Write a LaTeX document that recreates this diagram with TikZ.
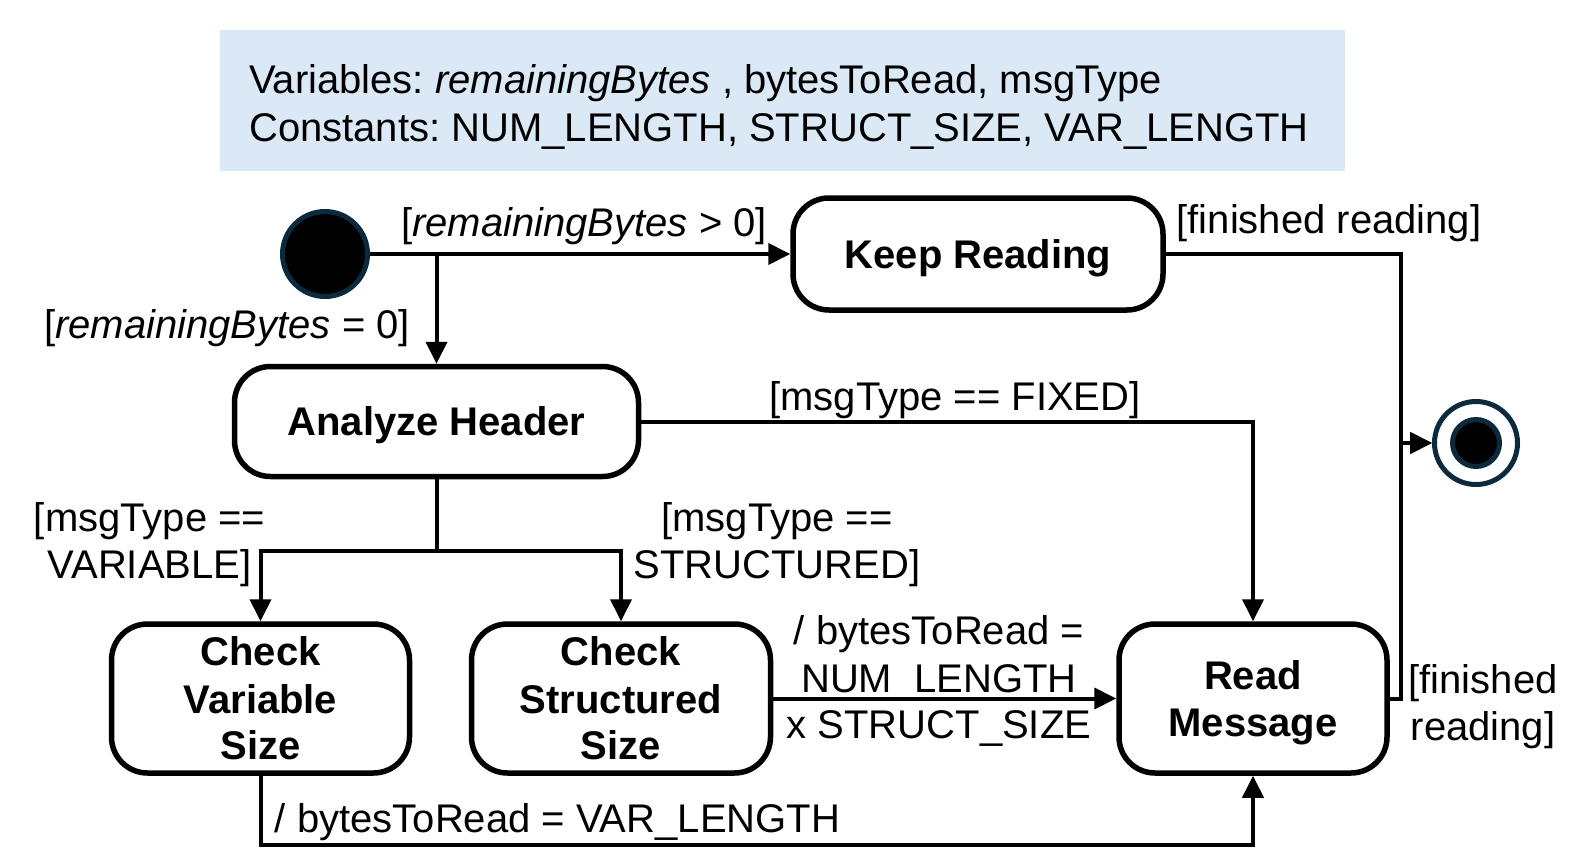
\documentclass[tikz,border=0pt]{standalone}
\usepackage{fontspec}
\setmainfont{Liberation Sans}
\frenchspacing
\usetikzlibrary{arrows.meta}
\definecolor{navy}{RGB}{12,42,62}
\definecolor{legendblue}{RGB}{219,232,246}
\begin{document}
\begin{tikzpicture}[x=1pt,y=-1pt,
  every node/.style={font=\fontsize{40}{47}\selectfont, inner sep=0pt, text depth=0pt},
  statebox/.style={draw, line width=5.5pt, rounded corners=36pt, align=center, font=\fontsize{40}{47}\selectfont\bfseries},
  arr/.style={line width=4pt, -{Triangle[length=22pt,width=21pt]}},
  conn/.style={line width=4pt},
  lbl/.style={align=center}]
\useasboundingbox (0,0) rectangle (1580,867);
% legend
\node[fill=legendblue, minimum width=1125pt, minimum height=141pt] (legend) at (782.5,100.5) {};
\node[anchor=west, align=left, font=\fontsize{40}{48}\selectfont] (legendtext) at (249,103)
  {Variables: \textit{remainingBytes} , bytesToRead, msgType\\Constants: NUM\_LENGTH, STRUCT\_SIZE, VAR\_LENGTH};
% states
\node[circle, fill=black, draw=navy, line width=5pt, minimum size=85pt] (init) at (325,254) {};
\node[statebox, minimum width=370pt, minimum height=112pt] (keep) at (978,254) {Keep Reading};
\node[statebox, minimum width=404pt, minimum height=110pt] (analyze) at (436.5,421.5) {Analyze Header};
\node[statebox, minimum width=298pt, minimum height=149pt] (cv) at (260.5,698.5) {Check\\Variable\\Size};
\node[statebox, minimum width=299pt, minimum height=149pt] (cs) at (621,698.5) {Check\\Structured\\Size};
\node[statebox, minimum width=268pt, minimum height=149pt] (read) at (1253,698.5) {Read\\Message};
\node[circle, fill=white, draw=navy, line width=5pt, minimum size=83pt] (final) at (1476,443) {};
\node[circle, fill=black, draw=navy, line width=5pt, minimum size=47pt] (finalin) at (final.center) {};
% junction coordinates
\coordinate (b1) at (436.5,254);
\coordinate (j) at (1401,443);
\coordinate (s) at (436.5,551);
\coordinate (bt) at (1253,845);
% connectors
\draw[arr] (init) -- (keep);
\draw[arr] (b1) -- (analyze.north);
\draw[arr] (keep.east) -| (j) -- (final.west);
\draw[arr] (read.east) -| (j) -- (final.west);
\draw[arr] (analyze.east) -| (read.north);
\draw[conn] (analyze.south) -- (s);
\draw[arr] (s) -| (cv.north);
\draw[arr] (s) -| (cs.north);
\draw[arr] (cs.east) -- (read.west);
\draw[arr] (cv.south) |- (bt) -- (read.south);
% labels
\node[lbl] (l1) at (584,222) {[\textit{remainingBytes} > 0]};
\node[lbl] (l2) at (227,324) {[\textit{remainingBytes} = 0]};
\node[lbl] (l3) at (1329,219) {[finished reading]};
\node[lbl] (l4) at (955,396) {[msgType == FIXED]};
\node[lbl] (l5) at (149.5,541) {[msgType ==\\VARIABLE]};
\node[lbl] (l6) at (777,541) {[msgType ==\\STRUCTURED]};
\node[lbl] (l7) at (939,677.5) {/ bytesToRead =\\NUM\_LENGTH\\x STRUCT\_SIZE};
\node[lbl] (l8) at (557.5,818) {/ bytesToRead = VAR\_LENGTH};
\node[lbl] (l9) at (1483,703) {[finished\\reading]};
\end{tikzpicture}
\end{document}
